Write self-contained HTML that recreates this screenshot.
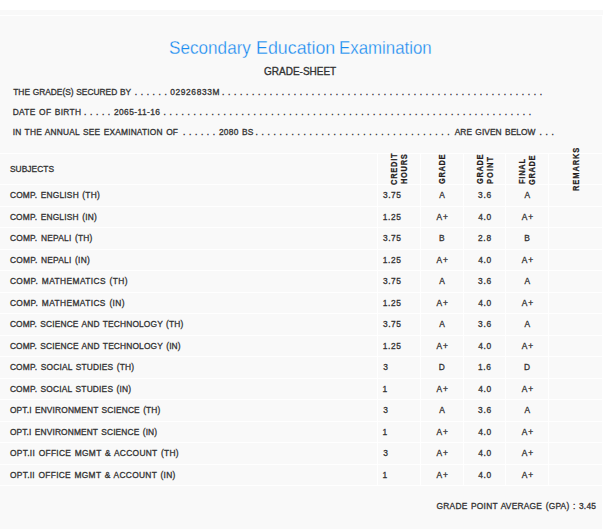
<!DOCTYPE html>
<html><head><meta charset="utf-8"><title>Grade Sheet</title>
<style>
html,body{margin:0;padding:0;}
body{width:603px;height:529px;overflow:hidden;background:#fff;position:relative;font-family:"Liberation Sans",sans-serif;color:#333;}
.bg{position:absolute;left:0;top:10px;width:603px;height:519px;background:#f9f9f9;}
.hl{position:absolute;left:0;width:603px;height:1px;background:#fff;}
.vl{position:absolute;width:1px;background:#fff;}
.t{position:absolute;white-space:pre;font-weight:bold;line-height:12px;}
.rot{position:absolute;white-space:nowrap;font-weight:bold;line-height:10px;transform-origin:0 0;transform:rotate(-90deg) scaleX(0.88);color:#241c1c;-webkit-text-stroke:0.25px #241c1c;}
</style></head><body>
<div class="bg"></div>
<div class="hl" style="top:15px"></div>
<div class="vl" style="left:602px;top:15px;height:514px"></div>

<div class="hl" style="top:153px"></div>
<div class="hl" style="top:184px"></div>
<div class="hl" style="top:206px"></div>
<div class="hl" style="top:227px"></div>
<div class="hl" style="top:249px"></div>
<div class="hl" style="top:270px"></div>
<div class="hl" style="top:292px"></div>
<div class="hl" style="top:313px"></div>
<div class="hl" style="top:335px"></div>
<div class="hl" style="top:356px"></div>
<div class="hl" style="top:378px"></div>
<div class="hl" style="top:399px"></div>
<div class="hl" style="top:421px"></div>
<div class="hl" style="top:442px"></div>
<div class="hl" style="top:464px"></div>
<div class="hl" style="top:485px"></div>
<div class="vl" style="left:377px;top:153px;height:333px"></div>
<div class="vl" style="left:420px;top:153px;height:333px"></div>
<div class="vl" style="left:463px;top:153px;height:333px"></div>
<div class="vl" style="left:505px;top:153px;height:333px"></div>
<div class="vl" style="left:548px;top:153px;height:333px"></div>
<div class="t" style="left:168.81px;top:36.29px;font-size:18.2px;letter-spacing:0.000px;line-height:24px;transform-origin:0 50%;transform:scaleX(0.9423);-webkit-text-stroke:0.3px #f9f9f9;font-weight:normal;color:#168af0;">Secondary</div>
<div class="t" style="left:255.87px;top:36.29px;font-size:18.2px;letter-spacing:0.000px;line-height:24px;transform-origin:0 50%;transform:scaleX(0.9800);-webkit-text-stroke:0.3px #f9f9f9;font-weight:normal;color:#168af0;">Education</div>
<div class="t" style="left:339.45px;top:36.29px;font-size:18.2px;letter-spacing:0.000px;line-height:24px;transform-origin:0 50%;transform:scaleX(0.9265);-webkit-text-stroke:0.3px #f9f9f9;font-weight:normal;color:#168af0;">Examination</div>
<div class="t" style="left:263.50px;top:63.86px;font-size:10.5px;letter-spacing:0.000px;line-height:14px;transform-origin:0 50%;transform:scaleX(0.9521);-webkit-text-stroke:0.35px #333;font-weight:normal;">GRADE-SHEET</div>
<div class="t" style="left:13.23px;top:86.09px;font-size:8.4px;letter-spacing:0.000px;line-height:12px;word-spacing:0.354px;-webkit-text-stroke:0.3px #333;font-weight:normal;">THE GRADE(S) SECURED BY</div>
<div class="t" style="left:134.72px;top:86.09px;font-size:8.4px;letter-spacing:0.651px;line-height:12px;-webkit-text-stroke:0.3px #333;font-weight:normal;">. . . . . .</div>
<div class="t" style="left:170.35px;top:86.09px;font-size:8.4px;letter-spacing:0.599px;line-height:12px;-webkit-text-stroke:0.3px #333;font-weight:normal;">02926833M</div>
<div class="t" style="left:221.92px;top:86.09px;font-size:8.4px;letter-spacing:0.671px;line-height:12px;-webkit-text-stroke:0.3px #333;font-weight:normal;">. . . . . . . . . . . . . . . . . . . . . . . . . . . . . . . . . . . . . . . . . . . . . . . . . . . . . .</div>
<div class="t" style="left:12.73px;top:106.09px;font-size:8.4px;letter-spacing:0.293px;line-height:12px;word-spacing:0.900px;-webkit-text-stroke:0.3px #333;font-weight:normal;">DATE OF BIRTH</div>
<div class="t" style="left:84.02px;top:106.09px;font-size:8.4px;letter-spacing:0.651px;line-height:12px;-webkit-text-stroke:0.3px #333;font-weight:normal;">. . . . .</div>
<div class="t" style="left:113.98px;top:106.09px;font-size:8.4px;letter-spacing:0.409px;line-height:12px;-webkit-text-stroke:0.3px #333;font-weight:normal;">2065-11-16</div>
<div class="t" style="left:163.62px;top:106.09px;font-size:8.4px;letter-spacing:0.666px;line-height:12px;-webkit-text-stroke:0.3px #333;font-weight:normal;">. . . . . . . . . . . . . . . . . . . . . . . . . . . . . . . . . . . . . . . . . . . . . . . . . . . . . . . . . . . . . .</div>
<div class="t" style="left:12.64px;top:126.09px;font-size:8.4px;letter-spacing:0.179px;line-height:12px;word-spacing:0.900px;-webkit-text-stroke:0.3px #333;font-weight:normal;">IN THE ANNUAL SEE EXAMINATION OF</div>
<div class="t" style="left:183.02px;top:126.09px;font-size:8.4px;letter-spacing:0.651px;line-height:12px;-webkit-text-stroke:0.3px #333;font-weight:normal;">. . . . . .</div>
<div class="t" style="left:218.98px;top:126.09px;font-size:8.4px;letter-spacing:0.234px;line-height:12px;word-spacing:0.900px;-webkit-text-stroke:0.3px #333;font-weight:normal;">2080 BS</div>
<div class="t" style="left:255.62px;top:126.09px;font-size:8.4px;letter-spacing:0.666px;line-height:12px;-webkit-text-stroke:0.3px #333;font-weight:normal;">. . . . . . . . . . . . . . . . . . . . . . . . . . . . . . . . .</div>
<div class="t" style="left:454.70px;top:126.09px;font-size:8.4px;letter-spacing:0.059px;line-height:12px;word-spacing:0.900px;-webkit-text-stroke:0.3px #333;font-weight:normal;">ARE GIVEN BELOW</div>
<div class="t" style="left:539.62px;top:126.09px;font-size:8.4px;letter-spacing:0.651px;line-height:12px;-webkit-text-stroke:0.3px #333;font-weight:normal;">. . .</div>
<div class="t" style="left:9.96px;top:163.19px;font-size:8.4px;letter-spacing:0.053px;line-height:12px;-webkit-text-stroke:0.3px #333;font-weight:normal;">SUBJECTS</div>
<div class="t" style="left:9.88px;top:189.09px;font-size:8.4px;letter-spacing:0.205px;line-height:12px;word-spacing:0.900px;-webkit-text-stroke:0.3px #333;font-weight:normal;">COMP. ENGLISH (TH)</div>
<div class="t" style="left:383.05px;top:189.09px;font-size:8.4px;letter-spacing:0.536px;line-height:12px;-webkit-text-stroke:0.3px #333;font-weight:normal;">3.75</div>
<div class="t" style="left:439.19px;top:189.09px;font-size:8.4px;letter-spacing:0.000px;line-height:12px;-webkit-text-stroke:0.3px #333;font-weight:normal;">A</div>
<div class="t" style="left:478.05px;top:189.09px;font-size:8.4px;letter-spacing:0.739px;line-height:12px;-webkit-text-stroke:0.3px #333;font-weight:normal;">3.6</div>
<div class="t" style="left:524.39px;top:189.09px;font-size:8.4px;letter-spacing:0.000px;line-height:12px;-webkit-text-stroke:0.3px #333;font-weight:normal;">A</div>
<div class="t" style="left:9.88px;top:210.60px;font-size:8.4px;letter-spacing:0.193px;line-height:12px;word-spacing:0.900px;-webkit-text-stroke:0.3px #333;font-weight:normal;">COMP. ENGLISH (IN)</div>
<div class="t" style="left:382.71px;top:210.60px;font-size:8.4px;letter-spacing:0.648px;line-height:12px;-webkit-text-stroke:0.3px #333;font-weight:normal;">1.25</div>
<div class="t" style="left:436.45px;top:210.60px;font-size:8.4px;letter-spacing:0.961px;line-height:12px;-webkit-text-stroke:0.3px #333;font-weight:normal;">A+</div>
<div class="t" style="left:478.13px;top:210.60px;font-size:8.4px;letter-spacing:0.697px;line-height:12px;-webkit-text-stroke:0.3px #333;font-weight:normal;">4.0</div>
<div class="t" style="left:521.65px;top:210.60px;font-size:8.4px;letter-spacing:0.961px;line-height:12px;-webkit-text-stroke:0.3px #333;font-weight:normal;">A+</div>
<div class="t" style="left:9.88px;top:232.12px;font-size:8.4px;letter-spacing:0.237px;line-height:12px;word-spacing:0.900px;-webkit-text-stroke:0.3px #333;font-weight:normal;">COMP. NEPALI (TH)</div>
<div class="t" style="left:383.05px;top:232.12px;font-size:8.4px;letter-spacing:0.536px;line-height:12px;-webkit-text-stroke:0.3px #333;font-weight:normal;">3.75</div>
<div class="t" style="left:439.06px;top:232.12px;font-size:8.4px;letter-spacing:0.000px;line-height:12px;-webkit-text-stroke:0.3px #333;font-weight:normal;">B</div>
<div class="t" style="left:477.88px;top:232.12px;font-size:8.4px;letter-spacing:0.823px;line-height:12px;-webkit-text-stroke:0.3px #333;font-weight:normal;">2.8</div>
<div class="t" style="left:524.26px;top:232.12px;font-size:8.4px;letter-spacing:0.000px;line-height:12px;-webkit-text-stroke:0.3px #333;font-weight:normal;">B</div>
<div class="t" style="left:9.88px;top:253.63px;font-size:8.4px;letter-spacing:0.243px;line-height:12px;word-spacing:0.900px;-webkit-text-stroke:0.3px #333;font-weight:normal;">COMP. NEPALI (IN)</div>
<div class="t" style="left:382.71px;top:253.63px;font-size:8.4px;letter-spacing:0.648px;line-height:12px;-webkit-text-stroke:0.3px #333;font-weight:normal;">1.25</div>
<div class="t" style="left:436.45px;top:253.63px;font-size:8.4px;letter-spacing:0.961px;line-height:12px;-webkit-text-stroke:0.3px #333;font-weight:normal;">A+</div>
<div class="t" style="left:478.13px;top:253.63px;font-size:8.4px;letter-spacing:0.697px;line-height:12px;-webkit-text-stroke:0.3px #333;font-weight:normal;">4.0</div>
<div class="t" style="left:521.65px;top:253.63px;font-size:8.4px;letter-spacing:0.961px;line-height:12px;-webkit-text-stroke:0.3px #333;font-weight:normal;">A+</div>
<div class="t" style="left:9.88px;top:275.15px;font-size:8.4px;letter-spacing:0.398px;line-height:12px;word-spacing:0.900px;-webkit-text-stroke:0.3px #333;font-weight:normal;">COMP. MATHEMATICS (TH)</div>
<div class="t" style="left:383.05px;top:275.15px;font-size:8.4px;letter-spacing:0.536px;line-height:12px;-webkit-text-stroke:0.3px #333;font-weight:normal;">3.75</div>
<div class="t" style="left:439.19px;top:275.15px;font-size:8.4px;letter-spacing:0.000px;line-height:12px;-webkit-text-stroke:0.3px #333;font-weight:normal;">A</div>
<div class="t" style="left:478.05px;top:275.15px;font-size:8.4px;letter-spacing:0.739px;line-height:12px;-webkit-text-stroke:0.3px #333;font-weight:normal;">3.6</div>
<div class="t" style="left:524.39px;top:275.15px;font-size:8.4px;letter-spacing:0.000px;line-height:12px;-webkit-text-stroke:0.3px #333;font-weight:normal;">A</div>
<div class="t" style="left:9.88px;top:296.66px;font-size:8.4px;letter-spacing:0.389px;line-height:12px;word-spacing:0.900px;-webkit-text-stroke:0.3px #333;font-weight:normal;">COMP. MATHEMATICS (IN)</div>
<div class="t" style="left:382.71px;top:296.66px;font-size:8.4px;letter-spacing:0.648px;line-height:12px;-webkit-text-stroke:0.3px #333;font-weight:normal;">1.25</div>
<div class="t" style="left:436.45px;top:296.66px;font-size:8.4px;letter-spacing:0.961px;line-height:12px;-webkit-text-stroke:0.3px #333;font-weight:normal;">A+</div>
<div class="t" style="left:478.13px;top:296.66px;font-size:8.4px;letter-spacing:0.697px;line-height:12px;-webkit-text-stroke:0.3px #333;font-weight:normal;">4.0</div>
<div class="t" style="left:521.65px;top:296.66px;font-size:8.4px;letter-spacing:0.961px;line-height:12px;-webkit-text-stroke:0.3px #333;font-weight:normal;">A+</div>
<div class="t" style="left:9.88px;top:318.18px;font-size:8.4px;letter-spacing:0.144px;line-height:12px;word-spacing:0.900px;-webkit-text-stroke:0.3px #333;font-weight:normal;">COMP. SCIENCE AND TECHNOLOGY (TH)</div>
<div class="t" style="left:383.05px;top:318.18px;font-size:8.4px;letter-spacing:0.536px;line-height:12px;-webkit-text-stroke:0.3px #333;font-weight:normal;">3.75</div>
<div class="t" style="left:439.19px;top:318.18px;font-size:8.4px;letter-spacing:0.000px;line-height:12px;-webkit-text-stroke:0.3px #333;font-weight:normal;">A</div>
<div class="t" style="left:478.05px;top:318.18px;font-size:8.4px;letter-spacing:0.739px;line-height:12px;-webkit-text-stroke:0.3px #333;font-weight:normal;">3.6</div>
<div class="t" style="left:524.39px;top:318.18px;font-size:8.4px;letter-spacing:0.000px;line-height:12px;-webkit-text-stroke:0.3px #333;font-weight:normal;">A</div>
<div class="t" style="left:9.88px;top:339.69px;font-size:8.4px;letter-spacing:0.147px;line-height:12px;word-spacing:0.900px;-webkit-text-stroke:0.3px #333;font-weight:normal;">COMP. SCIENCE AND TECHNOLOGY (IN)</div>
<div class="t" style="left:382.71px;top:339.69px;font-size:8.4px;letter-spacing:0.648px;line-height:12px;-webkit-text-stroke:0.3px #333;font-weight:normal;">1.25</div>
<div class="t" style="left:436.45px;top:339.69px;font-size:8.4px;letter-spacing:0.961px;line-height:12px;-webkit-text-stroke:0.3px #333;font-weight:normal;">A+</div>
<div class="t" style="left:478.13px;top:339.69px;font-size:8.4px;letter-spacing:0.697px;line-height:12px;-webkit-text-stroke:0.3px #333;font-weight:normal;">4.0</div>
<div class="t" style="left:521.65px;top:339.69px;font-size:8.4px;letter-spacing:0.961px;line-height:12px;-webkit-text-stroke:0.3px #333;font-weight:normal;">A+</div>
<div class="t" style="left:9.88px;top:361.21px;font-size:8.4px;letter-spacing:0.196px;line-height:12px;word-spacing:0.900px;-webkit-text-stroke:0.3px #333;font-weight:normal;">COMP. SOCIAL STUDIES (TH)</div>
<div class="t" style="left:383.29px;top:361.21px;font-size:8.4px;letter-spacing:0.000px;line-height:12px;-webkit-text-stroke:0.3px #333;font-weight:normal;">3</div>
<div class="t" style="left:438.81px;top:361.21px;font-size:8.4px;letter-spacing:0.000px;line-height:12px;-webkit-text-stroke:0.3px #333;font-weight:normal;">D</div>
<div class="t" style="left:478.01px;top:361.21px;font-size:8.4px;letter-spacing:0.607px;line-height:12px;-webkit-text-stroke:0.3px #333;font-weight:normal;">1.6</div>
<div class="t" style="left:524.01px;top:361.21px;font-size:8.4px;letter-spacing:0.000px;line-height:12px;-webkit-text-stroke:0.3px #333;font-weight:normal;">D</div>
<div class="t" style="left:9.88px;top:382.72px;font-size:8.4px;letter-spacing:0.188px;line-height:12px;word-spacing:0.900px;-webkit-text-stroke:0.3px #333;font-weight:normal;">COMP. SOCIAL STUDIES (IN)</div>
<div class="t" style="left:382.56px;top:382.72px;font-size:8.4px;letter-spacing:0.000px;line-height:12px;-webkit-text-stroke:0.3px #333;font-weight:normal;">1</div>
<div class="t" style="left:436.45px;top:382.72px;font-size:8.4px;letter-spacing:0.961px;line-height:12px;-webkit-text-stroke:0.3px #333;font-weight:normal;">A+</div>
<div class="t" style="left:478.13px;top:382.72px;font-size:8.4px;letter-spacing:0.697px;line-height:12px;-webkit-text-stroke:0.3px #333;font-weight:normal;">4.0</div>
<div class="t" style="left:521.65px;top:382.72px;font-size:8.4px;letter-spacing:0.961px;line-height:12px;-webkit-text-stroke:0.3px #333;font-weight:normal;">A+</div>
<div class="t" style="left:9.96px;top:404.24px;font-size:8.4px;letter-spacing:0.140px;line-height:12px;word-spacing:0.900px;-webkit-text-stroke:0.3px #333;font-weight:normal;">OPT.I ENVIRONMENT SCIENCE (TH)</div>
<div class="t" style="left:383.29px;top:404.24px;font-size:8.4px;letter-spacing:0.000px;line-height:12px;-webkit-text-stroke:0.3px #333;font-weight:normal;">3</div>
<div class="t" style="left:439.19px;top:404.24px;font-size:8.4px;letter-spacing:0.000px;line-height:12px;-webkit-text-stroke:0.3px #333;font-weight:normal;">A</div>
<div class="t" style="left:478.05px;top:404.24px;font-size:8.4px;letter-spacing:0.739px;line-height:12px;-webkit-text-stroke:0.3px #333;font-weight:normal;">3.6</div>
<div class="t" style="left:524.39px;top:404.24px;font-size:8.4px;letter-spacing:0.000px;line-height:12px;-webkit-text-stroke:0.3px #333;font-weight:normal;">A</div>
<div class="t" style="left:9.96px;top:425.75px;font-size:8.4px;letter-spacing:0.123px;line-height:12px;word-spacing:0.900px;-webkit-text-stroke:0.3px #333;font-weight:normal;">OPT.I ENVIRONMENT SCIENCE (IN)</div>
<div class="t" style="left:382.56px;top:425.75px;font-size:8.4px;letter-spacing:0.000px;line-height:12px;-webkit-text-stroke:0.3px #333;font-weight:normal;">1</div>
<div class="t" style="left:436.45px;top:425.75px;font-size:8.4px;letter-spacing:0.961px;line-height:12px;-webkit-text-stroke:0.3px #333;font-weight:normal;">A+</div>
<div class="t" style="left:478.13px;top:425.75px;font-size:8.4px;letter-spacing:0.697px;line-height:12px;-webkit-text-stroke:0.3px #333;font-weight:normal;">4.0</div>
<div class="t" style="left:521.65px;top:425.75px;font-size:8.4px;letter-spacing:0.961px;line-height:12px;-webkit-text-stroke:0.3px #333;font-weight:normal;">A+</div>
<div class="t" style="left:9.96px;top:447.27px;font-size:8.4px;letter-spacing:0.312px;line-height:12px;word-spacing:0.900px;-webkit-text-stroke:0.3px #333;font-weight:normal;">OPT.II OFFICE MGMT &amp; ACCOUNT (TH)</div>
<div class="t" style="left:383.29px;top:447.27px;font-size:8.4px;letter-spacing:0.000px;line-height:12px;-webkit-text-stroke:0.3px #333;font-weight:normal;">3</div>
<div class="t" style="left:436.45px;top:447.27px;font-size:8.4px;letter-spacing:0.961px;line-height:12px;-webkit-text-stroke:0.3px #333;font-weight:normal;">A+</div>
<div class="t" style="left:478.13px;top:447.27px;font-size:8.4px;letter-spacing:0.697px;line-height:12px;-webkit-text-stroke:0.3px #333;font-weight:normal;">4.0</div>
<div class="t" style="left:521.65px;top:447.27px;font-size:8.4px;letter-spacing:0.961px;line-height:12px;-webkit-text-stroke:0.3px #333;font-weight:normal;">A+</div>
<div class="t" style="left:9.96px;top:468.78px;font-size:8.4px;letter-spacing:0.296px;line-height:12px;word-spacing:0.900px;-webkit-text-stroke:0.3px #333;font-weight:normal;">OPT.II OFFICE MGMT &amp; ACCOUNT (IN)</div>
<div class="t" style="left:382.56px;top:468.78px;font-size:8.4px;letter-spacing:0.000px;line-height:12px;-webkit-text-stroke:0.3px #333;font-weight:normal;">1</div>
<div class="t" style="left:436.45px;top:468.78px;font-size:8.4px;letter-spacing:0.961px;line-height:12px;-webkit-text-stroke:0.3px #333;font-weight:normal;">A+</div>
<div class="t" style="left:478.13px;top:468.78px;font-size:8.4px;letter-spacing:0.697px;line-height:12px;-webkit-text-stroke:0.3px #333;font-weight:normal;">4.0</div>
<div class="t" style="left:521.65px;top:468.78px;font-size:8.4px;letter-spacing:0.961px;line-height:12px;-webkit-text-stroke:0.3px #333;font-weight:normal;">A+</div>
<div class="t" style="left:436.58px;top:500.09px;font-size:8.4px;letter-spacing:0.237px;line-height:12px;word-spacing:0.900px;-webkit-text-stroke:0.3px #333;font-weight:normal;">GRADE POINT AVERAGE (GPA) : 3.45</div>
<div class="rot" style="left:388.95px;top:184.90px;font-size:8.5px;letter-spacing:0.833px">CREDIT</div>
<div class="rot" style="left:399.25px;top:184.45px;font-size:8.5px;letter-spacing:0.771px">HOURS</div>
<div class="rot" style="left:437.15px;top:184.30px;font-size:8.5px;letter-spacing:0.728px">GRADE</div>
<div class="rot" style="left:474.75px;top:184.30px;font-size:8.5px;letter-spacing:0.728px">GRADE</div>
<div class="rot" style="left:484.95px;top:184.05px;font-size:8.5px;letter-spacing:1.193px">POINT</div>
<div class="rot" style="left:516.75px;top:183.55px;font-size:8.5px;letter-spacing:0.848px">FINAL</div>
<div class="rot" style="left:526.65px;top:184.70px;font-size:8.5px;letter-spacing:0.728px">GRADE</div>
<div class="rot" style="left:570.95px;top:191.45px;font-size:8.5px;letter-spacing:1.043px">REMARKS</div>
</body></html>
